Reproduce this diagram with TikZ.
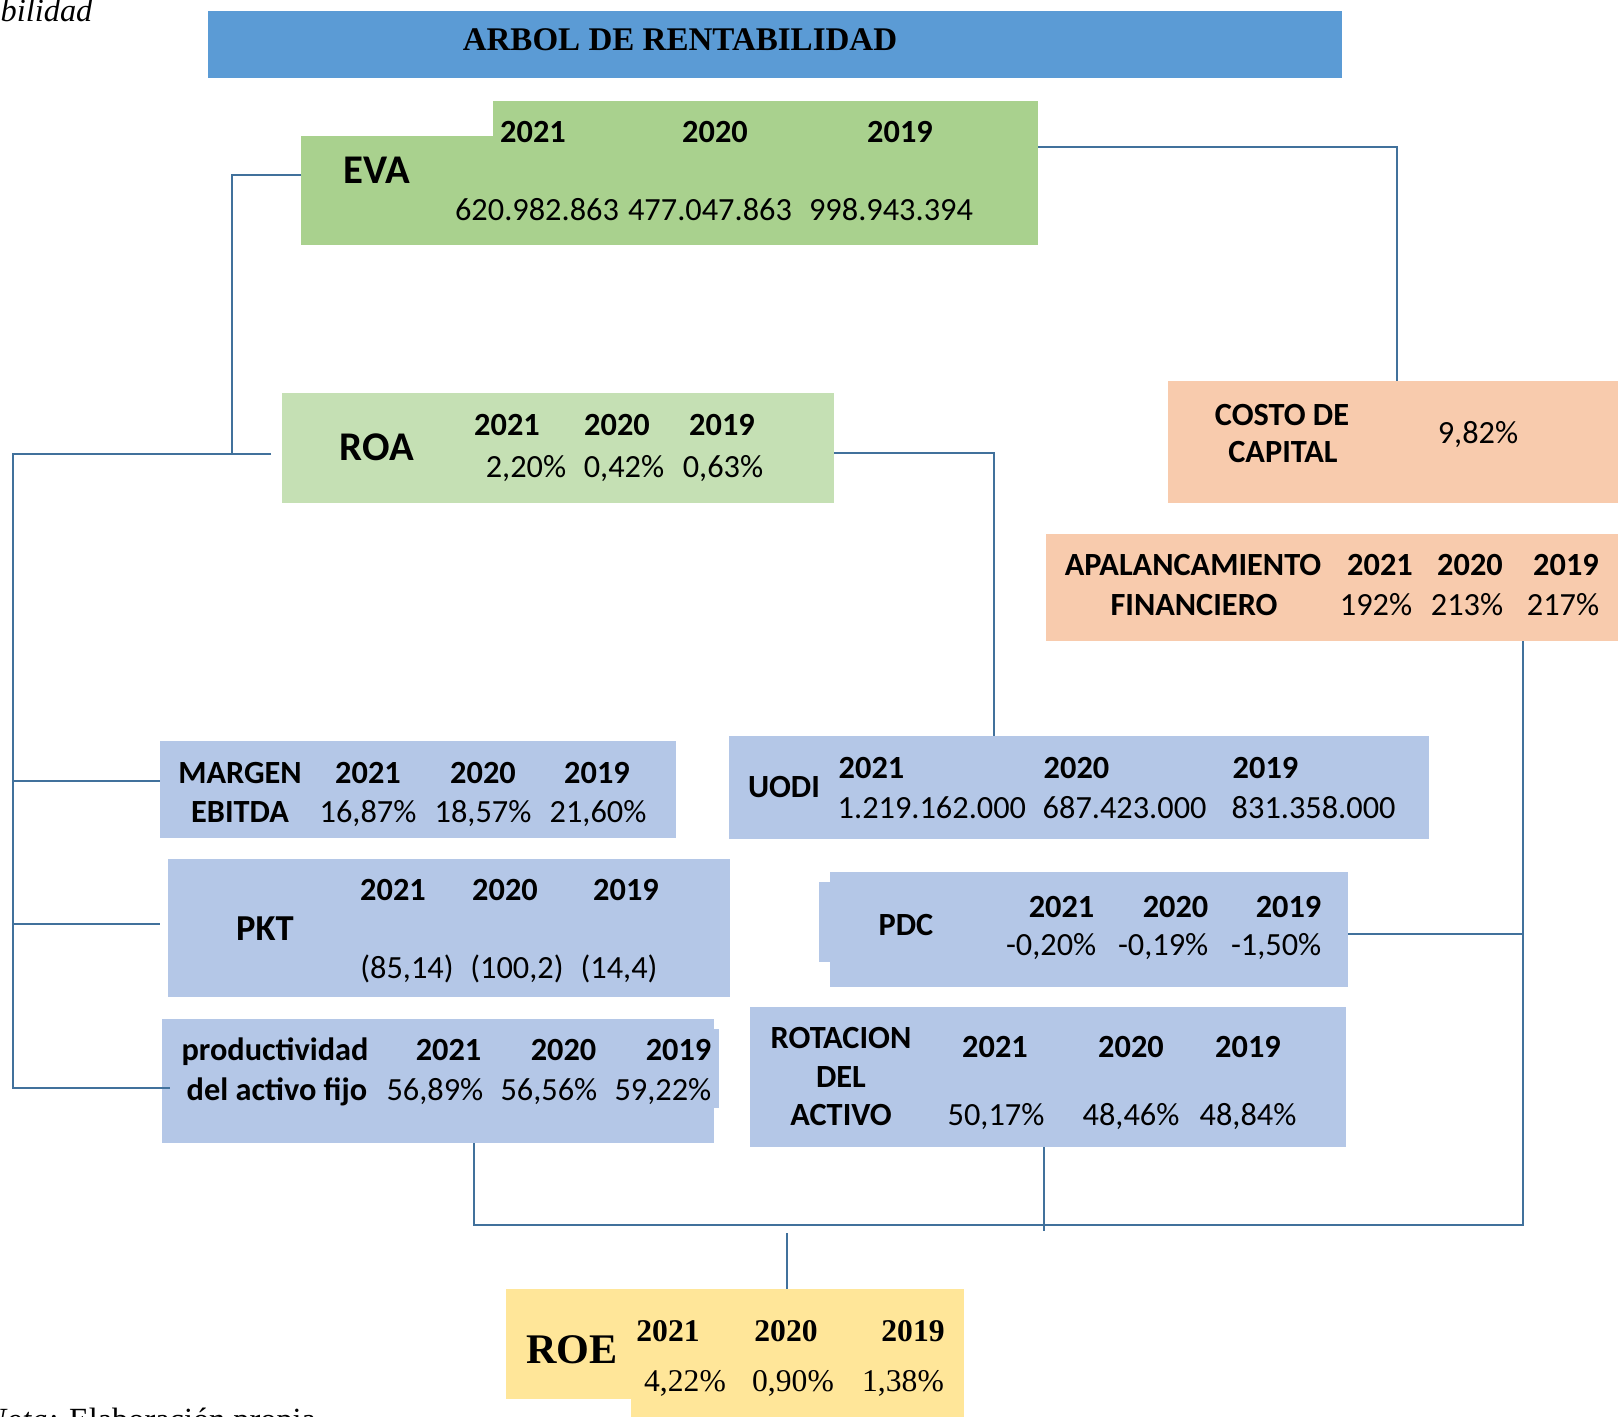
\documentclass[tikz,border=0pt]{standalone}
\usepackage{fontspec}
\setmainfont{Carlito}
\newfontfamily\timesrm{Liberation Serif}
\usetikzlibrary{fit}
\definecolor{titleblue}{HTML}{5B9BD5}
\definecolor{evagreen}{HTML}{A9D18E}
\definecolor{roagreen}{HTML}{C5E0B4}
\definecolor{costpeach}{HTML}{F8CBAD}
\definecolor{cellblue}{HTML}{B4C7E7}
\definecolor{roeyellow}{HTML}{FFE699}
\definecolor{linkblue}{HTML}{41719C}

\begin{document}
\begin{tikzpicture}[x=0.1mm,y=-0.1mm,
 cell/.style={inner sep=0,outer sep=0},
 wire/.style={draw=linkblue,line width=0.8pt},
 yr/.style={anchor=base,inner sep=0,font=\fontsize{9.2}{11}\selectfont\bfseries},
 num/.style={anchor=base,inner sep=0,font=\fontsize{9.2}{11}\selectfont},
 head/.style={anchor=base,inner sep=0,font=\fontsize{11.6}{13}\selectfont\bfseries},
 serifyr/.style={anchor=base,inner sep=0,font=\timesrm\fontsize{9}{11}\selectfont\bfseries},
 serifnum/.style={anchor=base,inner sep=0,font=\timesrm\fontsize{9}{11}\selectfont}]
\useasboundingbox (0,0) rectangle (1618,1416);
\node[cell,fill=titleblue,fit={(208,11) (1342,78)}] (titlebar) {};
\node[anchor=base,inner sep=0,font=\timesrm\fontsize{9.4}{11}\selectfont\bfseries] (title) at (680,50) {ARBOL DE RENTABILIDAD};
\node[anchor=base west,inner sep=0,font=\timesrm\fontsize{9.2}{11}\selectfont\itshape] (caption) at (0,22) {bilidad};
\node[cell,fill=evagreen,fit={(493,101) (1038,245)}] (evatab) {};
\node[cell,fill=evagreen,fit={(301,136) (1038,245)}] (evabox) {};
\node[head] (eva) at (377,183) {EVA};
\node[yr] (eva21) at (533,142) {2021};
\node[yr] (eva20) at (715,142) {2020};
\node[yr] (eva19) at (900,142) {2019};
\node[num] (eva21v) at (537,220) {620.982.863};
\node[num] (eva20v) at (710,220) {477.047.863};
\node[num] (eva19v) at (891,220) {998.943.394};
\node[cell,fill=roagreen,fit={(282,393) (834,503)}] (roabox) {};
\node[head] (roa) at (377,460) {ROA};
\node[yr] (roa21) at (507,435) {2021};
\node[yr] (roa20) at (617,435) {2020};
\node[yr] (roa19) at (722,435) {2019};
\node[num] (roa21v) at (526,477) {2,20\%};
\node[num] (roa20v) at (624,477) {0,42\%};
\node[num] (roa19v) at (723,477) {0,63\%};
\node[cell,fill=costpeach,fit={(1168,381) (1630,503)}] (costobox) {};
\node[yr] (costo1) at (1282,425) {COSTO DE};
\node[yr] (costo2) at (1283,462) {CAPITAL};
\node[num] (costov) at (1478,443) {9,82\%};
\node[cell,fill=costpeach,fit={(1046,534) (1630,641)}] (apalbox) {};
\node[yr] (apal1) at (1193,575) {APALANCAMIENTO};
\node[yr] (apal2) at (1194,615) {FINANCIERO};
\node[yr] (apal21) at (1380,575) {2021};
\node[yr] (apal20) at (1470,575) {2020};
\node[yr] (apal19) at (1566,575) {2019};
\node[num] (apal21v) at (1376,615) {192\%};
\node[num] (apal20v) at (1467,615) {213\%};
\node[num] (apal19v) at (1563,615) {217\%};
\node[cell,fill=cellblue,fit={(160,741) (676,838)}] (margenbox) {};
\node[yr] (margen1) at (240,783) {MARGEN};
\node[yr] (margen2) at (240,822) {EBITDA};
\node[yr] (margen21) at (368,783) {2021};
\node[yr] (margen20) at (483,783) {2020};
\node[yr] (margen19) at (597,783) {2019};
\node[num] (margen21v) at (368,822) {16,87\%};
\node[num] (margen20v) at (483,822) {18,57\%};
\node[num] (margen19v) at (598,822) {21,60\%};
\node[cell,fill=cellblue,fit={(729,736) (1429,839)}] (uodibox) {};
\node[yr] (uodi) at (784,797) {UODI};
\node[yr,anchor=base west] (uodi21) at (838,778) {2021};
\node[yr,anchor=base west] (uodi20) at (1043,778) {2020};
\node[yr,anchor=base west] (uodi19) at (1232,778) {2019};
\node[num,anchor=base west] (uodi21v) at (837,818) {1.219.162.000};
\node[num,anchor=base west] (uodi20v) at (1042,818) {687.423.000};
\node[num,anchor=base west] (uodi19v) at (1231,818) {831.358.000};
\node[cell,fill=cellblue,fit={(168,859) (730,997)}] (pktbox) {};
\node[yr,font=\fontsize{10.4}{12}\selectfont\bfseries] (pkt) at (265,940) {PKT};
\node[yr] (pkt21) at (393,900) {2021};
\node[yr] (pkt20) at (505,900) {2020};
\node[yr] (pkt19) at (626,900) {2019};
\node[num] (pkt21v) at (407,978) {(85,14)};
\node[num] (pkt20v) at (517,978) {(100,2)};
\node[num] (pkt19v) at (619,978) {(14,4)};
\node[cell,fill=cellblue,fit={(830,872) (1348,987)}] (pdcbox) {};
\node[cell,fill=cellblue,fit={(819,882) (831,962)}] (pdcnotch) {};
\node[yr] (pdc) at (906,935) {PDC};
\node[yr,anchor=base east] (pdc21) at (1095,917) {2021};
\node[yr,anchor=base east] (pdc20) at (1209,917) {2020};
\node[yr,anchor=base east] (pdc19) at (1322,917) {2019};
\node[num,anchor=base east] (pdc21v) at (1097,955) {-0,20\%};
\node[num,anchor=base east] (pdc20v) at (1209,955) {-0,19\%};
\node[num,anchor=base east] (pdc19v) at (1322,955) {-1,50\%};
\node[cell,fill=cellblue,fit={(162,1019) (714,1143)}] (prodbox) {};
\node[cell,fill=cellblue,fit={(713,1029) (719,1108)}] (prodtab) {};
\node[yr] (prod1) at (275,1060) {productividad};
\node[yr] (prod2) at (277,1100) {del activo fijo};
\node[yr,anchor=base east] (prod21) at (482,1060) {2021};
\node[yr,anchor=base east] (prod20) at (597,1060) {2020};
\node[yr,anchor=base east] (prod19) at (712,1060) {2019};
\node[num,anchor=base east] (prod21v) at (484,1100) {56,89\%};
\node[num,anchor=base east] (prod20v) at (598,1100) {56,56\%};
\node[num,anchor=base east] (prod19v) at (712,1100) {59,22\%};
\node[cell,fill=cellblue,fit={(750,1007) (1346,1147)}] (rotbox) {};
\node[yr] (rot1) at (841,1048) {ROTACION};
\node[yr] (rot2) at (841,1087) {DEL};
\node[yr] (rot3) at (841,1125) {ACTIVO};
\node[yr] (rot21) at (995,1057) {2021};
\node[yr] (rot20) at (1131,1057) {2020};
\node[yr] (rot19) at (1248,1057) {2019};
\node[num] (rot21v) at (996,1125) {50,17\%};
\node[num] (rot20v) at (1131,1125) {48,46\%};
\node[num] (rot19v) at (1248,1125) {48,84\%};
\node[cell,fill=roeyellow,fit={(506,1289) (964,1399)}] (roebox) {};
\node[cell,fill=roeyellow,fit={(631,1396) (964,1430)}] (roefoot) {};
\node[anchor=base,inner sep=0,font=\timesrm\fontsize{12}{14}\selectfont\bfseries] (roe) at (572,1363) {ROE};
\node[serifyr] (roe21) at (668,1341) {2021};
\node[serifyr] (roe20) at (786,1341) {2020};
\node[serifyr] (roe19) at (913,1341) {2019};
\node[serifnum] (roe21v) at (685,1391) {4,22\%};
\node[serifnum] (roe20v) at (793,1391) {0,90\%};
\node[serifnum] (roe19v) at (903,1391) {1,38\%};
\node[anchor=base west,inner sep=0,font=\timesrm\fontsize{9.2}{11}\selectfont] (nota) at (-16,1430) {\textit{Nota:} Elaboración propia};
\coordinate (evaj) at (232,175);
\coordinate (spinetop) at (13,454);
\coordinate (roaend) at (271,454);
\coordinate (margenj) at (13,781);
\coordinate (pktj) at (13,924);
\coordinate (pktend) at (160,924);
\coordinate (prodj) at (13,1088);
\coordinate (prodend) at (170,1088);
\coordinate (costoj) at (1397,147);
\coordinate (uodij) at (994,453);
\coordinate (rspine) at (1523,1225);
\coordinate (pdcj) at (1523,934);
\coordinate (bottomj) at (474,1225);
\coordinate (rotj) at (1044,1231);
\coordinate (roej) at (787,1233);
\draw[wire] (evabox.west |- evaj) -- (evaj) -- (evaj |- spinetop);
\draw[wire] (roaend) -- (spinetop) -- (prodj) -- (prodend);
\draw[wire] (margenj) -- (margenj -| margenbox.west);
\draw[wire] (pktj) -- (pktend);
\draw[wire] (evabox.east |- costoj) -- (costoj) -- (costoj |- costobox.north);
\draw[wire] (roabox.east |- uodij) -- (uodij) -- (uodij |- uodibox.north);
\draw[wire] (rspine |- apalbox.south) -- (rspine) -- (bottomj) -- (bottomj |- prodbox.south);
\draw[wire] (pdcj -| pdcbox.east) -- (pdcj);
\draw[wire] (rotj |- rotbox.south) -- (rotj);
\draw[wire] (roej) -- (roej |- roebox.north);
\end{tikzpicture}
\end{document}
